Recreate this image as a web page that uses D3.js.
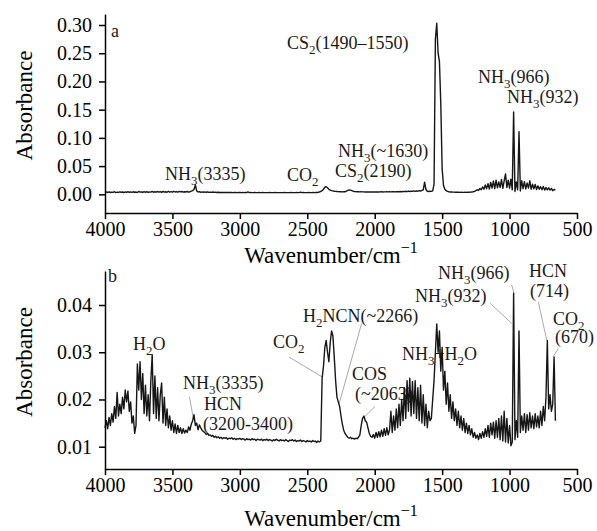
<!DOCTYPE html>
<html>
<head>
<meta charset="utf-8">
<script src="https://cdn.jsdelivr.net/npm/d3@7"></script>
<style>
  body { margin: 0; background: #fff; }
  svg { display: block; font-family: 'Liberation Serif', 'Times New Roman', serif; }
</style>
</head>
<body>
<div id="chart"></div>
<script>
// both spectra are sampled every 10 cm-1 from 4000 cm-1 down to 660 cm-1
// absorbance values are in milli-absorbance units (read from the figure)
const waveStart = 4000;
const waveStep = 10;

const spectrumA = [
  3.5, 4.2, 3.0, 4.5, 3.2, 4.0, 3.4, 4.6, 3.1, 3.9,   // 4000-3910
  3.3, 4.4, 3.6, 4.1, 3.0, 4.3, 3.5, 4.8, 3.6, 4.2,   // 3900
  3.4, 4.5, 3.7, 4.0, 3.2, 5.0, 3.8, 4.4, 3.3, 4.7,   // 3800
  3.6, 4.9, 3.5, 4.2, 3.8, 5.2, 3.6, 4.6, 3.9, 5.0,   // 3700
  3.7, 4.8, 3.5, 5.1, 3.9, 4.5, 3.6, 5.3, 4.0, 4.7,   // 3600
  3.8, 5.4, 4.1, 4.9, 3.7, 5.2, 4.3, 5.0, 3.9, 4.6,   // 3500
  4.2, 5.0, 3.8, 4.6, 5.5, 6.5, 8.5, 16.5, 6.0, 4.2,  // 3400
  4.8, 3.5, 4.4, 3.6, 4.2, 3.3, 4.5, 3.4, 4.0, 3.5,   // 3300
  4.1, 3.4, 3.8, 3.3, 3.6, 3.2, 3.4, 3.1, 3.3, 3.2,   // 3200
  3.2, 3.1, 3.3, 3.1, 3.2, 3.0, 3.1, 3.2, 3.0, 3.1,   // 3100
  3.1, 3.0, 3.2, 3.0, 3.1, 3.0, 4.2, 3.0, 3.1, 3.0,   // 3000
  3.0, 3.1, 3.0, 3.0, 3.1, 3.0, 3.0, 3.1, 3.0, 3.0,   // 2900
  3.0, 3.0, 3.1, 3.0, 3.0, 3.0, 3.1, 3.0, 3.0, 3.0,   // 2800
  3.0, 3.0, 3.0, 3.1, 3.0, 3.0, 3.0, 3.0, 3.1, 3.0,   // 2700
  3.0, 3.0, 3.1, 3.0, 3.0, 4.0, 3.0, 3.5, 3.0, 3.0,   // 2600
  3.0, 3.1, 3.0, 3.0, 3.2, 3.0, 3.1, 3.3, 3.6, 4.2,   // 2500
  5.0, 6.5, 9.0, 12.5, 13.5, 11.5, 9.0, 7.5, 6.5, 6.0, // 2400
  5.5, 5.2, 5.0, 4.8, 4.6, 4.5, 4.4, 4.5, 4.6, 5.5,   // 2300
  7.0, 7.8, 7.5, 6.5, 5.5, 5.0, 4.8, 4.5, 4.6, 4.4,   // 2200
  4.5, 4.3, 4.4, 4.2, 4.3, 4.2, 4.4, 4.1, 4.3, 4.2,   // 2100
  4.3, 4.2, 4.4, 4.2, 4.3, 4.5, 4.2, 4.4, 4.3, 4.5,   // 2000
  4.4, 4.6, 4.3, 4.5, 4.7, 4.4, 4.8, 4.5, 4.6, 4.9,   // 1900
  4.6, 5.0, 4.7, 5.4, 4.8, 5.8, 5.0, 5.6, 5.2, 6.0,   // 1800
  5.3, 6.2, 5.5, 6.5, 5.6, 6.8, 8.0, 21.5, 8.5, 5.5,  // 1700
  5.0, 5.4, 5.2, 6.0, 18, 275, 303, 250, 235, 160,    // 1600
  45, 16, 9.0, 6.5, 5.2, 4.6, 4.2, 4.0, 3.8, 3.8,     // 1500
  3.7, 3.6, 3.6, 3.5, 3.6, 3.5, 3.5, 3.6, 3.5, 3.6,   // 1400
  3.7, 3.8, 4.0, 4.5, 5.2, 6.5, 8.0, 7.0, 10.5, 8.0,  // 1300
  13.0, 9.0, 16.5, 10.0, 19.0, 9.5, 21.0, 11.0, 23.5, 10.0, // 1200
  25.0, 11.5, 22.0, 12.0, 26.5, 10.5, 24.0, 36.0, 12.0, 25.0, // 1100
  11.0, 27.0, 8.0, 146, 5.0, 22.0, 8.0, 111, 6.0, 24.0,       // 1000
  10.0, 22.5, 9.5, 20.0, 11.0, 24.0, 9.0, 18.0, 10.0, 17.5,   // 900
  8.5, 15.0, 9.0, 13.5, 8.0, 14.0, 7.5, 12.0, 8.0, 11.5,      // 800
  7.5, 10.5, 6.5, 8.5, 8.0                                    // 700-660
];

const spectrumB = [
  14.0, 15.5, 13.8, 16.2, 14.5, 17.0, 15.2, 18.5, 16.0, 21.5, // 4000-3910
  16.5, 19.0, 17.0, 20.5, 18.0, 22.0, 19.5, 21.8, 17.5, 19.5, // 3900
  15.0, 16.5, 12.8, 14.5, 27.5, 22.0, 28.0, 20.0, 25.5, 17.0, // 3800
  23.0, 16.5, 21.0, 15.5, 24.0, 29.5, 17.0, 25.0, 16.0, 22.5, // 3700
  15.5, 21.0, 23.5, 15.0, 20.5, 14.5, 18.0, 14.0, 16.5, 13.5, // 3600
  15.5, 13.0, 14.8, 12.8, 14.5, 13.0, 14.0, 12.8, 13.8, 12.9, // 3500
  13.5, 13.0, 14.2, 13.5, 14.8, 15.5, 16.8, 14.5, 15.0, 13.6, // 3400
  14.6, 14.0, 13.5, 13.2, 13.0, 12.6, 12.8, 12.4, 12.5, 12.2, // 3300
  12.4, 12.0, 12.2, 11.9, 12.1, 11.8, 12.0, 11.7, 11.9, 11.8, // 3200
  11.9, 11.6, 11.8, 11.7, 11.9, 11.6, 11.8, 11.5, 11.7, 11.6, // 3100
  11.8, 11.5, 11.7, 11.6, 11.4, 11.7, 11.5, 11.6, 11.4, 11.7, // 3000
  11.5, 11.6, 11.3, 11.6, 11.5, 11.4, 11.6, 11.3, 11.5, 11.4, // 2900
  11.6, 11.3, 11.5, 11.4, 11.2, 11.5, 11.3, 11.6, 11.4, 11.2, // 2800
  11.5, 11.3, 11.4, 11.2, 11.5, 11.3, 11.1, 11.4, 11.3, 11.5, // 2700
  11.2, 11.4, 11.1, 11.3, 11.2, 11.4, 11.1, 11.3, 11.2, 11.0, // 2600
  11.3, 11.1, 11.2, 11.0, 11.3, 11.1, 11.2, 10.9, 11.2, 11.0, // 2500
  11.2, 24.5, 27.0, 31.0, 32.5, 30.0, 28.0, 32.0, 34.5, 33.5, // 2400
  29.0, 24.0, 20.5, 19.5, 18.5, 16.5, 14.8, 13.5, 12.8, 12.4, // 2300
  12.0, 11.8, 12.0, 11.7, 11.8, 11.6, 11.8, 11.7, 12.0, 12.5, // 2200
  14.5, 16.0, 16.5, 15.5, 15.2, 14.0, 12.8, 12.2, 12.0, 12.6, // 2100
  11.8, 13.0, 12.0, 13.2, 12.1, 13.5, 12.2, 13.8, 12.4, 14.0, // 2000
  12.5, 13.6, 17.5, 13.0, 16.5, 13.5, 18.0, 14.0, 19.0, 14.5, // 1900
  20.0, 15.5, 22.5, 16.0, 24.0, 17.5, 24.5, 16.5, 23.8, 17.0, // 1800
  24.0, 16.0, 22.5, 15.5, 23.0, 15.0, 21.0, 14.5, 19.0, 14.0, // 1700
  17.5, 15.5, 16.0, 20.0, 24.0, 30.0, 36.0, 30.0, 34.5, 26.0, // 1600
  31.0, 22.0, 26.0, 19.0, 23.5, 17.5, 21.0, 16.0, 19.5, 15.5, // 1500
  18.0, 14.5, 17.5, 14.0, 16.5, 13.5, 16.0, 13.0, 15.0, 12.8, // 1400
  14.5, 12.5, 13.8, 12.0, 13.0, 11.8, 12.5, 11.5, 12.8, 11.8, // 1300
  13.2, 12.0, 13.8, 12.2, 14.5, 12.0, 15.0, 12.5, 15.2, 11.8, // 1200
  15.5, 12.0, 16.0, 11.5, 16.5, 11.2, 17.5, 11.0, 16.0, 10.8, // 1100
  14.5, 10.2, 11.0, 42.5, 11.5, 15.5, 12.0, 34.5, 13.0, 16.5, // 1000
  13.5, 17.0, 13.0, 16.8, 13.5, 17.2, 14.0, 16.5, 13.8, 17.0, // 900
  14.2, 16.5, 14.0, 17.5, 14.5, 18.5, 15.5, 20.5, 32.5, 18.0, // 800
  21.0, 17.5, 19.0, 29.0, 15.5                                // 700-660
];

const xTicks = [4000, 3500, 3000, 2500, 2000, 1500, 1000, 500];
const yTicksA = [0, 0.05, 0.10, 0.15, 0.20, 0.25, 0.30];
const yTicksB = [0.01, 0.02, 0.03, 0.04];

// annotation text, anchored at (wavenumber, absorbance); "_3" marks a subscript
const labelsA = [
  { text: 'a', w: 3956, a: 0.2786 },
  { text: 'NH_3(3335)', w: 3555, a: 0.0253 },
  { text: 'CO_2', w: 2650, a: 0.0236 },
  { text: 'CS_2(2190)', w: 2294, a: 0.0307 },
  { text: 'NH_3(~1630)', w: 2272, a: 0.0661 },
  { text: 'CS_2(1490\u20131550)', w: 2650, a: 0.2575 },
  { text: 'NH_3(966)', w: 1234, a: 0.1972 },
  { text: 'NH_3(932)', w: 1019, a: 0.1618 }
];

const labelsB = [
  { text: 'b', w: 3978, a: 0.0449 },
  { text: 'H_2O', w: 3792, a: 0.0305 },
  { text: 'NH_3(3335)', w: 3422, a: 0.0222 },
  { text: 'HCN', w: 3266, a: 0.0178 },
  { text: '(3200-3400)', w: 3273, a: 0.0135 },
  { text: 'CO_2', w: 2754, a: 0.0309 },
  { text: 'H_2NCN(~2266)', w: 2532, a: 0.0364 },
  { text: 'COS', w: 2168, a: 0.0241 },
  { text: '(~2063)', w: 2146, a: 0.0199 },
  { text: 'NH_3+H_2O', w: 1798, a: 0.0284 },
  { text: 'NH_3(966)', w: 1531, a: 0.0455 },
  { text: 'NH_3(932)', w: 1701, a: 0.0406 },
  { text: 'HCN', w: 856, a: 0.0459 },
  { text: '(714)', w: 849, a: 0.0417 },
  { text: 'CO_2', w: 678, a: 0.0358 },
  { text: '(670)', w: 663, a: 0.0320 }
];

// leader lines: [w1, a1, w2, a2]
const leadersB = [
  [3374, 0.0206, 3345, 0.0160],
  [2636, 0.0290, 2391, 0.0248],
  [2097, 0.0361, 2263, 0.0192],
  [1998, 0.0185, 2072, 0.0164],
  [984, 0.0442, 967, 0.0425],
  [1145, 0.0404, 984, 0.0361],
  [787, 0.0407, 725, 0.0326],
  [639, 0.0308, 676, 0.0291]
];

const width = 597, height = 531;
const svg = d3.select('#chart').append('svg')
  .attr('width', width)
  .attr('height', height);

function richText(sel, str) {
  const parts = str.split(/_(\d)/);
  let shifted = false;
  parts.forEach((p, i) => {
    if (!p) return;
    const t = sel.append('tspan').text(p);
    if (i % 2 === 1) {
      t.attr('font-size', '0.72em').attr('dy', 5);
      shifted = true;
    } else if (shifted) {
      t.attr('dy', -5);
      shifted = false;
    }
  });
}

function drawPanel(cfg) {
  const x = d3.scaleLinear().domain([4000, 500]).range([105, 577]);
  const y = d3.scaleLinear().domain(cfg.yDomain).range([cfg.bottom, cfg.top]);
  const g = svg.append('g');

  // annotations go under the trace
  const labels = g.append('g').attr('fill', '#1a1a1a').attr('font-size', 18);
  cfg.labels.forEach(l => {
    const t = labels.append('text')
      .attr('x', x(l.w))
      .attr('y', y(l.a));
    richText(t, l.text);
  });

  g.append('g').selectAll('line')
    .data(cfg.leaders)
    .join('line')
    .attr('x1', d => x(d[0])).attr('y1', d => y(d[1]))
    .attr('x2', d => x(d[2])).attr('y2', d => y(d[3]))
    .attr('stroke', '#aaa')
    .attr('stroke-width', 1);

  const line = d3.line()
    .x((d, i) => x(waveStart - i * waveStep))
    .y(d => y(d / 1000));

  g.append('path')
    .datum(cfg.data)
    .attr('d', line)
    .attr('fill', 'none')
    .attr('stroke', '#161616')
    .attr('stroke-width', 1.4)
    .attr('stroke-linejoin', 'round');

  const xAxis = g.append('g')
    .attr('transform', `translate(0,${cfg.bottom})`)
    .call(d3.axisBottom(x).tickValues(xTicks).tickFormat(d3.format('d'))
      .tickSize(6).tickSizeOuter(0).tickPadding(3));

  const yAxis = g.append('g')
    .attr('transform', 'translate(105,0)')
    .call(d3.axisLeft(y).tickValues(cfg.yTicks).tickFormat(d3.format(cfg.fmt))
      .tickSize(6).tickSizeOuter(0).tickPadding(7));

  [xAxis, yAxis].forEach(a => {
    a.selectAll('path, line').attr('stroke', '#000').attr('stroke-width', 1.5);
    a.selectAll('text').attr('font-size', 20).attr('fill', '#000')
      .style('font-family', "'Liberation Serif', 'Times New Roman', serif");
  });

  const xt = svg.append('text')
    .attr('x', 331)
    .attr('y', cfg.xTitleY)
    .attr('text-anchor', 'middle')
    .attr('font-size', 23);
  xt.append('tspan').text('Wavenumber/cm');
  xt.append('tspan').text('\u22121').attr('font-size', 16).attr('dy', -10);

  svg.append('text')
    .attr('transform', `translate(32,${(cfg.top + cfg.bottom) / 2 - 8}) rotate(-90)`)
    .attr('text-anchor', 'middle')
    .attr('font-size', 23)
    .text('Absorbance');
}

drawPanel({
  data: spectrumA,
  yDomain: [-0.0331, 0.3195],
  top: 14, bottom: 213,
  yTicks: yTicksA, fmt: '.2f',
  labels: labelsA, leaders: [],
  xTitleY: 263
});

drawPanel({
  data: spectrumB,
  yDomain: [0.00528, 0.0472],
  top: 271, bottom: 469,
  yTicks: yTicksB, fmt: '.2f',
  labels: labelsB, leaders: leadersB,
  xTitleY: 526
});
</script>
</body>
</html>
